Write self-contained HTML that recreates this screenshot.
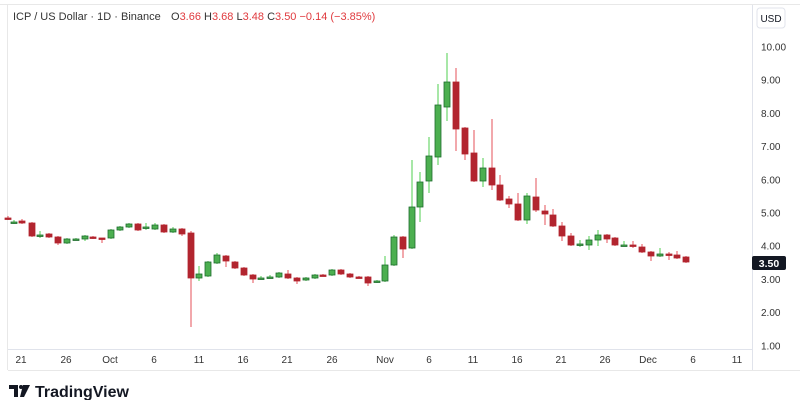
<!DOCTYPE html>
<html><head><meta charset="utf-8"><style>
html,body{margin:0;padding:0;background:#fff;width:800px;height:400px;overflow:hidden;font-family:"Liberation Sans",sans-serif}
svg{position:absolute;left:0;top:0}
</style></head><body>
<svg id="s" width="800" height="400" xmlns="http://www.w3.org/2000/svg" font-family="Liberation Sans, sans-serif">
<rect x="0" y="0" width="800" height="400" fill="#fff"/>
<line x1="0" y1="4.5" x2="800" y2="4.5" stroke="#e8e8e8"/>
<line x1="752.5" y1="5" x2="752.5" y2="370" stroke="#e0e3eb"/>
<line x1="8" y1="349.5" x2="752" y2="349.5" stroke="#e0e3eb"/>
<line x1="8" y1="370.5" x2="800" y2="370.5" stroke="#e8e8e8"/>
<line x1="7.5" y1="5" x2="7.5" y2="370" stroke="#e8e8e8"/>
<text x="13" y="20" font-size="11" fill="#333">ICP / US Dollar · 1D · Binance</text>
<text x="171" y="20" font-size="11" fill="#333">O<tspan fill="#e03a3e">3.66</tspan>  H<tspan fill="#e03a3e">3.68</tspan>  L<tspan fill="#e03a3e">3.48</tspan>  C<tspan fill="#e03a3e">3.50</tspan>  <tspan fill="#e03a3e">−0.14 (−3.85%)</tspan></text>
<rect x="757" y="8" width="28" height="20" rx="3" fill="#fff" stroke="#e0e3eb"/>
<text x="771" y="22" font-size="10" fill="#131722" text-anchor="middle">USD</text>
<g id="c"></g>
<g font-size="10" fill="#333" text-anchor="middle" id="xl"></g>
<g font-size="10" fill="#333" id="yl"></g>
<rect x="752" y="256" width="34" height="14" rx="2" fill="#131722"/>
<text x="769" y="267" font-size="10.5" fill="#fff" text-anchor="middle" font-weight="bold">3.50</text>
<g transform="translate(9,385)"><path d="M0 0h9v12h-4v-8h-5z" fill="#131722"/><circle cx="12" cy="2" r="2" fill="#131722"/><path d="M14 0h7l-6 12h-4z" fill="#131722"/></g>
<text x="35" y="397" font-size="16" font-weight="bold" fill="#131722">TradingView</text>
</svg>
<script>
var ns="http://www.w3.org/2000/svg";
function el(t,a,p){var e=document.createElementNS(ns,t);for(var k in a)e.setAttribute(k,a[k]);p.appendChild(e);return e;}
// x, open, close, high, low (in pixels)
var d=[[8,218,218,216,220],[14,222,222,220,224],[22,221,223,219,224],[32,223,236,222,237],[40,235,235,231,238],[49,234,237,233,238],[58,237,243,236,245],[67,243,239,238,244],[76,239,239,238,240],[85,239,236,235,241],[93,237,238,236,239],[102,238,238,238,243],[111,238,230,229,239],[120,230,227,226,231],[129,227,224,223,228],[138,224,230,223,231],[146,227,227,223,230],[155,229,225,223,230],[164,225,232,224,233],[173,232,229,227,233],[182,229,234,228,236],[191,233,278,231,327],[199,278,274,266,281],[208,276,262,261,277],[217,263,255,253,264],[226,256,261,255,267],[235,262,268,261,269],[244,268,275,267,276],[253,275,279,274,283],[261,278,278,276,279],[270,277,277,275,278],[279,277,273,272,278],[288,274,278,270,279],[297,278,281,277,284],[306,280,278,277,281],[315,278,275,274,279],[323,275,275,274,276],[332,275,270,269,276],[341,270,274,269,275],[350,274,277,273,278],[359,277,277,276,278],[368,277,283,276,286],[377,282,281,280,283],[385,281,265,256,282],[394,265,237,235,266],[403,237,249,236,258],[412,248,207,160,249],[420,207,182,172,222],[429,181,156,137,193],[438,157,105,84,165],[447,107,82,53,121],[456,82,129,68,151],[465,128,154,127,160],[474,153,181,130,182],[483,181,168,158,187],[492,168,185,119,190],[500,185,200,175,201],[509,199,204,196,208],[518,204,220,193,221],[527,220,196,193,224],[536,197,210,178,212],[545,211,214,205,225],[553,215,226,209,227],[562,226,236,222,241],[571,236,245,233,246],[580,244,244,240,247],[589,245,240,236,250],[598,240,235,230,246],[607,235,239,234,243],[615,238,245,237,246],[624,245,245,241,246],[633,245,245,241,248],[642,247,252,244,253],[651,252,256,251,261],[660,256,254,248,257],[669,254,254,252,260],[677,255,258,251,259],[686,257,262,256,263]];
var g=document.getElementById("c");
d.forEach(function(c){var up=c[2]<=c[1]&&!(c[1]==c[2]&&c[0]%2==0&&false);
var green=c[2]<c[1]||(c[1]==c[2]&&[14,40,76,146,261,270,580,624].indexOf(c[0])>=0);
el("line",{x1:c[0],x2:c[0],y1:c[3],y2:c[4],stroke:green?"#4fcf4f":"#e4525a","stroke-width":1},g);
var t=Math.min(c[1],c[2]),h=Math.max(1.5,Math.abs(c[2]-c[1]));
el("rect",{x:c[0]-3,y:t,width:6,height:h,fill:green?"#4caf50":"#b2252f",stroke:green?"#1e6b2e":"#b2252f","stroke-width":0.8},g);});
var xl=document.getElementById("xl");
[["21",21],["26",66],["Oct",110],["6",154],["11",199],["16",243],["21",287],["26",332],["Nov",385],["6",429],["11",473],["16",517],["21",561],["26",605],["Dec",648],["6",693],["11",737]].forEach(function(a){var t=el("text",{x:a[1],y:363},xl);t.textContent=a[0];});
var yl=document.getElementById("yl");
for(var p=1;p<=10;p++){var y=47+(10-p)*33.2;var t=el("text",{x:761,y:y+3.5},yl);t.textContent=p.toFixed(2);}
</script>
</body></html>
